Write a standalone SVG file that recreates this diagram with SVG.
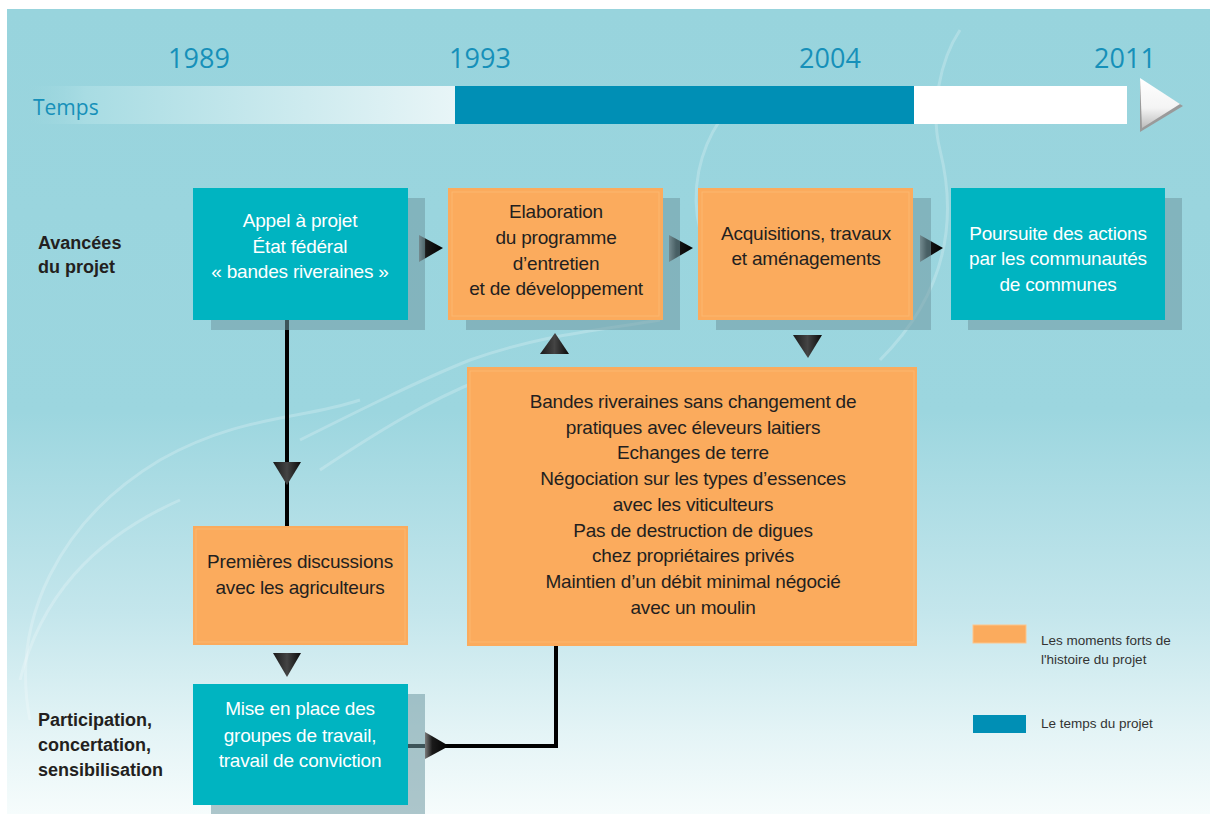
<svg xmlns="http://www.w3.org/2000/svg" width="1210" height="814" viewBox="0 0 1210 814">
  <defs>
    <linearGradient id="bg" x1="0" y1="0" x2="0" y2="1">
      <stop offset="0" stop-color="#98d4dd"/>
      <stop offset="0.5" stop-color="#9cd6df"/>
      <stop offset="0.75" stop-color="#c4e6ec"/>
      <stop offset="0.9" stop-color="#e4f4f6"/>
      <stop offset="1" stop-color="#f6fcfc"/>
    </linearGradient>
    <linearGradient id="barfade" x1="0" y1="0" x2="1" y2="0">
      <stop offset="0" stop-color="#98d4dd" stop-opacity="0"/>
      <stop offset="0.15" stop-color="#a8dce3"/>
      <stop offset="1" stop-color="#e8f5f7"/>
    </linearGradient>
    <linearGradient id="tri" x1="0" y1="0" x2="0" y2="1">
      <stop offset="0" stop-color="#ffffff"/>
      <stop offset="0.6" stop-color="#f4f4f4"/>
      <stop offset="1" stop-color="#bdbdbd"/>
    </linearGradient>
    <linearGradient id="headR" x1="0" y1="0" x2="1" y2="0">
      <stop offset="0" stop-color="#7a7a7a"/>
      <stop offset="0.3" stop-color="#1a1a1a"/>
      <stop offset="1" stop-color="#000"/>
    </linearGradient>
    <linearGradient id="headV" x1="0" y1="0" x2="1" y2="0">
      <stop offset="0" stop-color="#1a1a1a"/>
      <stop offset="0.5" stop-color="#444"/>
      <stop offset="1" stop-color="#0a0a0a"/>
    </linearGradient>
    <style>
      .yr { font-family: "Open Sans", "Liberation Sans", sans-serif; font-size: 27px; fill: #1690b9; }
      .box-teal { fill: #00b4c1; }
      .box-orange { fill: #fbab5d; }
      .inner { fill: none; stroke: #fdbb76; stroke-width: 1; stroke-opacity: 0.8; }
      .shadow { fill: #6f99a2; opacity: 0.55; }
      .t { font-family: "Liberation Sans", Arial, sans-serif; font-size: 19px; letter-spacing: -0.2px; text-anchor: middle; }
      .tw { fill: #ffffff; }
      .td { fill: #231f20; }
      .side { font-family: "Liberation Sans", Arial, sans-serif; font-size: 18px; font-weight: bold; fill: #231f20; }
      .leg { font-family: "Liberation Sans", Arial, sans-serif; font-size: 13.5px; fill: #333; }
      .line { fill: none; stroke: #000; stroke-width: 4; }
      .hr { fill: url(#headR); }
      .hv { fill: url(#headV); }
      .deco { fill: none; stroke: #ffffff; stroke-opacity: 0.22; stroke-width: 3; }
    </style>
  </defs>

  <!-- background -->
  <rect x="0" y="0" width="1210" height="814" fill="#ffffff"/>
  <rect x="7" y="9" width="1203" height="805" fill="url(#bg)"/>
  <g id="texture">
    <path class="deco" d="M30 720 C 10 620, 60 520, 160 460 C 240 415, 300 420, 360 400"/>
    <path class="deco" d="M20 680 C 40 600, 90 540, 180 500"/>
    <path class="deco" d="M300 440 C 360 410, 420 380, 470 360 C 540 335, 600 330, 660 320"/>
    <path class="deco" d="M320 470 C 380 430, 430 400, 480 380"/>
    <path class="deco" d="M880 360 C 940 300, 960 230, 940 150 C 930 110, 940 60, 960 30"/>
    <path class="deco" d="M720 120 C 700 150, 690 190, 700 230"/>
  </g>

  <!-- timeline -->
  <g id="timeline">
    <text class="yr" x="199" y="68" text-anchor="middle">1989</text>
    <text class="yr" x="480" y="68" text-anchor="middle">1993</text>
    <text class="yr" x="830" y="68" text-anchor="middle">2004</text>
    <text class="yr" x="1125" y="68" text-anchor="middle">2011</text>
    <rect x="20" y="86" width="435" height="38" fill="url(#barfade)"/>
    <rect x="455" y="86" width="459" height="38" fill="#008fb5"/>
    <rect x="914" y="86" width="213" height="38" fill="#ffffff"/>
    <polygon points="1140,80 1183,106 1140,132" fill="#9a9a9a"/>
    <polygon points="1140,78 1180,104 1142,128" fill="url(#tri)"/>
    <text x="33" y="115" font-family="'Open Sans', 'Liberation Sans', sans-serif" font-size="21" fill="#1690b9">Temps</text>
  </g>

  <!-- side labels -->
  <g id="labels">
    <text class="side" x="38" y="249">Avancées</text>
    <text class="side" x="38" y="273">du projet</text>
    <text class="side" x="38" y="726">Participation,</text>
    <text class="side" x="38" y="751">concertation,</text>
    <text class="side" x="38" y="776">sensibilisation</text>
  </g>

  <!-- connectors -->
  <g id="connectors">
    <line class="line" x1="287" y1="320" x2="287" y2="527"/>
    <polygon class="hv" points="273,462 301,462 287,485"/>
    <polygon class="hv" points="273,653 301,653 287,677"/>
    <polyline class="line" points="408,746 556,746 556,646"/>
    <polygon class="hr" points="425,732 449,746 425,759"/>
    <polygon class="hr" points="419,235 443,248 419,262"/>
    <polygon class="hr" points="669,235 693,248 669,262"/>
    <polygon class="hr" points="920,235 943,248 920,262"/>
    <polygon class="hv" points="540,354 555,333 569,354"/>
    <polygon class="hv" points="793,335 822,335 808,358"/>
  </g>

  <!-- nodes -->
  <g id="n-appel">
    <rect class="shadow" x="211" y="198" width="214" height="132"/>
    <rect class="box-teal" x="193" y="188" width="215" height="132"/>
    <text class="t tw" x="300" y="227">Appel à projet</text>
    <text class="t tw" x="300" y="253">État fédéral</text>
    <text class="t tw" x="300" y="278">« bandes riveraines »</text>
  </g>

  <g id="n-elaboration">
    <rect class="shadow" x="466" y="198" width="214" height="132"/>
    <rect class="box-orange" x="448" y="188" width="215" height="132"/>
    <rect class="inner" x="452" y="192" width="207" height="124"/>
    <text class="t td" x="556" y="218">Elaboration</text>
    <text class="t td" x="556" y="244">du programme</text>
    <text class="t td" x="556" y="270">d’entretien</text>
    <text class="t td" x="556" y="295">et de développement</text>
  </g>

  <g id="n-acquisitions">
    <rect class="shadow" x="716" y="198" width="215" height="132"/>
    <rect class="box-orange" x="698" y="188" width="215" height="132"/>
    <rect class="inner" x="702" y="192" width="207" height="124"/>
    <text class="t td" x="806" y="240">Acquisitions, travaux</text>
    <text class="t td" x="806" y="265">et aménagements</text>
  </g>

  <g id="n-poursuite">
    <rect class="shadow" x="968" y="198" width="214" height="132"/>
    <rect class="box-teal" x="951" y="188" width="214" height="132"/>
    <text class="t tw" x="1058" y="240">Poursuite des actions</text>
    <text class="t tw" x="1058" y="265">par les communautés</text>
    <text class="t tw" x="1058" y="291">de communes</text>
  </g>

  <g id="n-bandes">
    <rect class="box-orange" x="467" y="367" width="450" height="279"/>
    <rect class="inner" x="470" y="371" width="444" height="271"/>
    <text class="t td" x="693" y="408">Bandes riveraines sans changement de</text>
    <text class="t td" x="693" y="434">pratiques avec éleveurs laitiers</text>
    <text class="t td" x="693" y="459">Echanges de terre</text>
    <text class="t td" x="693" y="485">Négociation sur les types d’essences</text>
    <text class="t td" x="693" y="511">avec les viticulteurs</text>
    <text class="t td" x="693" y="537">Pas de destruction de digues</text>
    <text class="t td" x="693" y="562">chez propriétaires privés</text>
    <text class="t td" x="693" y="588">Maintien d’un débit minimal négocié</text>
    <text class="t td" x="693" y="614">avec un moulin</text>
  </g>

  <g id="n-premieres">
    <rect class="box-orange" x="193" y="526" width="215" height="119"/>
    <rect class="inner" x="196" y="529" width="209" height="113"/>
    <text class="t td" x="300" y="568">Premières discussions</text>
    <text class="t td" x="300" y="594">avec les agriculteurs</text>
  </g>

  <g id="n-mise">
    <rect class="shadow" x="211" y="694" width="214" height="120"/>
    <rect class="box-teal" x="193" y="684" width="215" height="121"/>
    <text class="t tw" x="300" y="715">Mise en place des</text>
    <text class="t tw" x="300" y="742">groupes de travail,</text>
    <text class="t tw" x="300" y="767">travail de conviction</text>
  </g>

  <!-- legend -->
  <g id="legend">
    <rect x="973" y="625" width="53" height="18" fill="#fbab5d" stroke="#fdc58c" stroke-width="1"/>
    <text class="leg" x="1041" y="645">Les moments forts de</text>
    <text class="leg" x="1041" y="664">l'histoire du projet</text>
    <rect x="973" y="715" width="53" height="18" fill="#008fb5"/>
    <text class="leg" x="1041" y="728">Le temps du projet</text>
  </g>
</svg>
